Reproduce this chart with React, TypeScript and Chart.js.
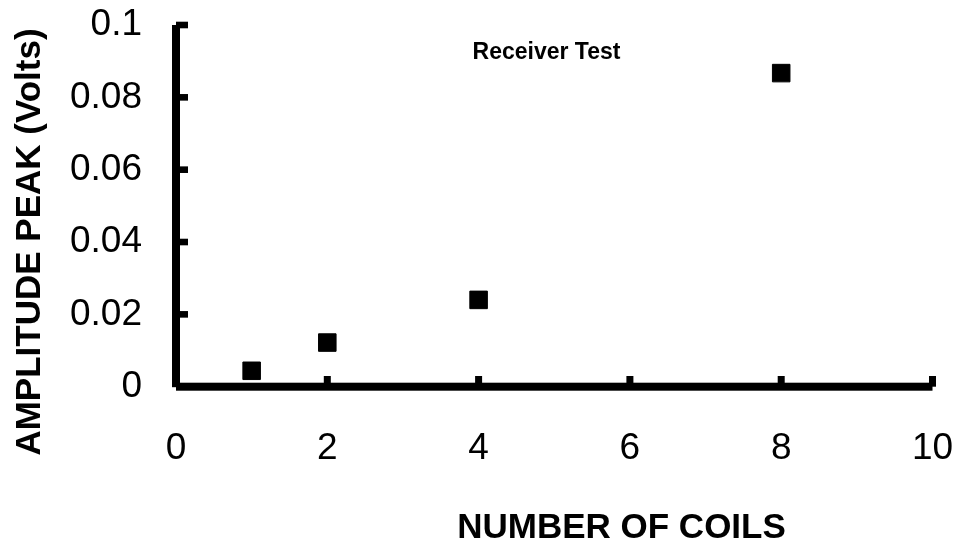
import React, { useEffect, useRef } from "react";
import { Chart, registerables } from "chart.js";

Chart.register(...registerables);

const coils = [1, 2, 4, 8];
const amplitude = [0.0044, 0.0122, 0.024, 0.0867];
const xTicks = [0, 2, 4, 6, 8, 10];
const yTicks = [0, 0.02, 0.04, 0.06, 0.08, 0.1];
const yTickLabels = ["0", "0.02", "0.04", "0.06", "0.08", "0.1"];
const xTickLabels = ["0", "2", "4", "6", "8", "10"];
const chartTitle = "Receiver Test";
const xTitle = "NUMBER OF COILS";
const yTitle = "AMPLITUDE PEAK (Volts)";

const FONT = '"Liberation Sans", Arial, Helvetica, sans-serif';

const axesPlugin = {
  id: "customAxes",
  afterDraw(chart: any) {
    const ctx = chart.ctx as CanvasRenderingContext2D;
    const xs = chart.scales.x;
    const ys = chart.scales.y;
    const x0 = xs.getPixelForValue(0);
    const x10 = xs.getPixelForValue(10);
    const y0 = ys.getPixelForValue(0);
    const yTop = ys.getPixelForValue(0.1);
    ctx.save();
    ctx.fillStyle = "#000";
    // y axis line
    ctx.fillRect(x0 - 4, yTop, 8, y0 - yTop + 0.5);
    // x axis line
    ctx.fillRect(x0, y0 - 4, x10 - x0, 8);
    // y ticks
    yTicks.forEach((v) => {
      if (v === 0) return;
      const py = ys.getPixelForValue(v);
      ctx.fillRect(x0, py - 3.3, 12, 6.6);
    });
    // x ticks
    xTicks.forEach((v) => {
      if (v === 0) return;
      const px = xs.getPixelForValue(v);
      ctx.fillRect(px - 3.5, y0 - 10.7, 7, 10.7);
    });
    // title
    ctx.textAlign = "center";
    ctx.textBaseline = "alphabetic";
    ctx.font = `bold 23px ${FONT}`;
    ctx.fillText(chartTitle, 546.5, 59);
    // x title
    ctx.font = `bold 35px ${FONT}`;
    ctx.fillText(xTitle, 621.5, 538);
    // y title
    ctx.translate(40, 242);
    ctx.rotate(-Math.PI / 2);
    ctx.fillText(yTitle, 0, 0);
    ctx.restore();
  },
};

export default function App() {
  const ref = useRef<HTMLCanvasElement>(null);
  useEffect(() => {
    if (!ref.current) return;
    const chart = new Chart(ref.current, {
      type: "scatter",
      data: {
        datasets: [
          {
            data: coils.map((c, i) => ({ x: c, y: amplitude[i] })),
            pointStyle: "rect",
            pointRadius: 12.4,
            pointBorderWidth: 1,
            backgroundColor: "#000",
            borderColor: "#000",
          },
        ],
      },
      options: {
        responsive: false,
        animation: false,
        events: [],
        layout: { padding: { top: 25, right: 25.5, left: 0, bottom: 0 } },
        plugins: {
          legend: { display: false },
          tooltip: { enabled: false },
          title: { display: false },
        },
        scales: {
          x: {
            type: "linear",
            min: 0,
            max: 10,
            grid: { display: false, drawTicks: false },
            border: { display: false },
            afterBuildTicks: (s: any) => {
              s.ticks = xTicks.map((v) => ({ value: v }));
            },
            afterFit: (s: any) => {
              s.height = 544 - 386.7;
              s.paddingLeft = 0;
              s.paddingRight = 0;
              s.paddingTop = 0;
              s.paddingBottom = 0;
            },
            ticks: {
              padding: 40,
              color: "#000",
              font: { family: FONT, size: 37 },
              maxRotation: 0,
              autoSkip: false,
              callback: (v: any) => xTickLabels[xTicks.indexOf(Number(v))] ?? String(v),
            },
          },
          y: {
            type: "linear",
            min: 0,
            max: 0.1,
            grid: { display: false, drawTicks: false },
            border: { display: false },
            afterBuildTicks: (s: any) => {
              s.ticks = yTicks.map((v) => ({ value: v }));
            },
            afterFit: (s: any) => {
              s.width = 176;
              s.paddingLeft = 0;
              s.paddingRight = 0;
              s.paddingTop = 0;
              s.paddingBottom = 0;
            },
            ticks: {
              padding: 34,
              color: "#000",
              font: { family: FONT, size: 37 },
              autoSkip: false,
              callback: (v: any) => {
                const i = yTicks.findIndex((t) => Math.abs(t - Number(v)) < 1e-9);
                return i >= 0 ? yTickLabels[i] : String(v);
              },
            },
          },
        },
      },
      plugins: [axesPlugin],
    });
    return () => chart.destroy();
  }, []);
  return (
    <div style={{ position: "fixed", left: 0, top: 0, width: 958, height: 544, background: "#fff" }}>
      <canvas ref={ref} width={958} height={544} style={{ display: "block" }} />
    </div>
  );
}
